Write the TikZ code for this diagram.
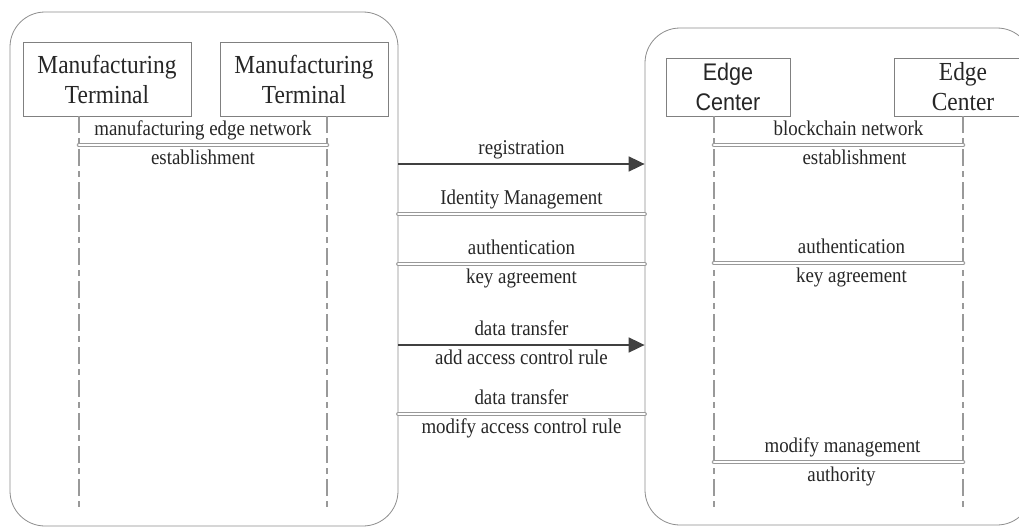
\documentclass[tikz,border=0pt]{standalone}
\usepackage{fontspec}
\setmainfont[FakeStretch=0.9]{Liberation Serif}
\newfontfamily\arialfont[FakeStretch=0.9]{Liberation Sans}
\usetikzlibrary{arrows.meta,positioning}
\begin{document}
\begin{tikzpicture}[x=1pt,y=-1pt,>={Triangle[length=16pt,width=15pt]},
	panel/.style={draw=black!45,line width=0.8pt,rounded corners=35pt},
	actor/.style={draw=black!50,line width=0.8pt,align=center,inner sep=0pt,text=black!85,font=\fontsize{26}{30}\selectfont},
	life/.style={draw=black!40,line width=1.8pt,dash pattern=on 17pt off 5pt on 6pt off 5pt},
	bar/.style={draw=black!40,line width=0.9pt,double=white,double distance=2.8pt,line cap=round},
	msg/.style={->,draw=black!75,line width=1.8pt},
	lbl/.style={text=black!85,inner sep=3pt,text height=16pt,text depth=6pt,font=\fontsize{21}{25}\selectfont}]
\useasboundingbox (0,0) rectangle (1019,527);
\node[panel,minimum width=388pt,minimum height=514pt] (mfg) at (204,269) {};
\node[panel,minimum width=387pt,minimum height=497pt] (edge) at (838.5,276.5) {};
\node[actor,minimum width=168pt,minimum height=74pt] (mt1) at (107,79) {Manufacturing\\Terminal};
\node[actor,minimum width=168pt,minimum height=74pt] (mt2) at (304,79) {Manufacturing\\Terminal};
\node[actor,minimum width=124pt,minimum height=58pt,font=\arialfont\fontsize{24}{30}\selectfont] (ec1) at (728,87) {Edge\\Center};
\node[actor,minimum width=138pt,minimum height=58pt] (ec2) at (963,87) {Edge\\Center};
\coordinate (l1) at ([xshift=-28pt]mt1.south);
\coordinate (l2) at ([xshift=23pt]mt2.south);
\coordinate (l3) at ([xshift=-14pt]ec1.south);
\coordinate (l4) at (ec2.south);
\foreach \a in {1,2,3,4}{
	\coordinate (l\a e) at (l\a |- 0,512);
	\draw[life] (l\a) -- (l\a e);
}
\draw[bar] (l1 |- 0,145) -- (l2 |- 0,145)
	node[midway,lbl,above] {manufacturing edge network}
	node[midway,lbl,below] {establishment};
\draw[bar] (l3 |- 0,145) -- (l4 |- 0,145)
	node[midway,lbl,above,xshift=10pt] {blockchain network}
	node[midway,lbl,below,xshift=16pt] {establishment};
\draw[bar] (l3 |- 0,263) -- (l4 |- 0,263)
	node[midway,lbl,above,xshift=13pt] {authentication}
	node[midway,lbl,below,xshift=13pt] {key agreement};
\draw[bar] (l3 |- 0,462) -- (l4 |- 0,462)
	node[midway,lbl,above,xshift=4pt] {modify management}
	node[midway,lbl,below,xshift=3pt] {authority};
\draw[msg] (mfg.east |- 0,164) -- (edge.west |- 0,164)
	node[midway,lbl,above] {registration};
\draw[bar] (mfg.east |- 0,214) -- (edge.west |- 0,214)
	node[midway,lbl,above] {Identity Management};
\draw[bar] (mfg.east |- 0,264) -- (edge.west |- 0,264)
	node[midway,lbl,above] {authentication}
	node[midway,lbl,below] {key agreement};
\draw[msg] (mfg.east |- 0,345) -- (edge.west |- 0,345)
	node[midway,lbl,above] {data transfer}
	node[midway,lbl,below] {add access control rule};
\draw[bar] (mfg.east |- 0,414) -- (edge.west |- 0,414)
	node[midway,lbl,above] {data transfer}
	node[midway,lbl,below] {modify access control rule};
\end{tikzpicture}
\end{document}
